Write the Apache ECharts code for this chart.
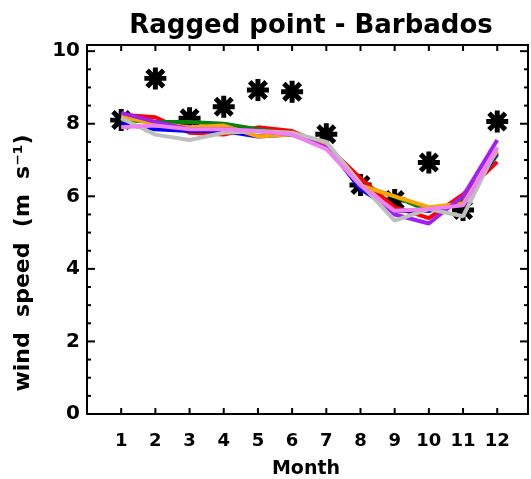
<!DOCTYPE html>
<html>
<head>
<meta charset="utf-8">
<script src="https://cdn.jsdelivr.net/npm/echarts@6/dist/echarts.min.js"></script>
<style>html,body{margin:0;padding:0;background:#fff}#c{width:531px;height:479px}</style>
</head>
<body>
<div id="c"></div>
<script>
const months = [1,2,3,4,5,6,7,8,9,10,11,12];
const xTickLabels = ['1','2','3','4','5','6','7','8','9','10','11','12'];
const yTickLabels = ['0','2','4','6','8','10'];
const yMajorTicks = [0, 2, 4, 6, 8, 10];
const yMinorTicks = [0.5, 1, 1.5, 2.5, 3, 3.5, 4.5, 5, 5.5, 6.5, 7, 7.5, 8.5, 9, 9.5];
const observed = [8.1, 9.25, 8.15, 8.47, 8.93, 8.88, 7.71, 6.31, 5.9, 6.93, 5.62, 8.06];
const red    = [8.25, 8.18, 7.75, 7.7, 7.9, 7.8, 7.4, 6.5, 5.7, 5.4, 6.05, 6.95];
const green  = [8.1, 8.05, 8.05, 8.0, 7.85, 7.7, 7.4, 6.3, 6.0, 5.6, 5.85, 7.15];
const blue   = [8.0, 7.85, 7.8, 7.8, 7.65, 7.7, 7.4, 6.2, 5.6, 5.6, 5.8, 7.2];
const orange = [8.2, 8.0, 7.9, 7.95, 7.65, 7.7, 7.45, 6.3, 6.0, 5.7, 5.8, 7.25];
const purple = [8.3, 8.05, 7.85, 7.85, 7.8, 7.7, 7.35, 6.3, 5.5, 5.25, 6.0, 7.55];
const pink   = [7.9, 7.95, 7.85, 7.85, 7.8, 7.7, 7.3, 6.3, 5.6, 5.65, 5.75, 7.35];
const gray   = [8.15, 7.7, 7.55, 7.75, 7.8, 7.75, 7.5, 6.35, 5.33, 5.65, 5.45, 7.35];

const X_MAX = 12.9, Y_MAX = 10.17;

const modelSeries = [
  ['red', red, '#ff0000'],
  ['green', green, '#0a800a'],
  ['blue', blue, '#0000ff'],
  ['orange', orange, '#ffa500'],
  ['purple', purple, '#a020f0'],
  ['gray', gray, '#bebebe'],
  ['pink', pink, '#ee82ee']
];

const starPath = 'path://M0 7.75L20 7.75L20 12.25L0 12.25Z' +
  'M7.75 0L12.25 0L12.25 20L7.75 20Z' +
  'M4.09 0.91L19.09 15.91L15.91 19.09L0.91 4.09Z' +
  'M19.09 4.09L4.09 19.09L0.91 15.91L15.91 0.91Z';

const chart = echarts.init(document.getElementById('c'), null, {renderer: 'canvas'});
const axisLine = {show: true, onZero: false, lineStyle: {color: '#000', width: 2}};
const tickStyle = {stroke: '#000', lineWidth: 2};

const series = modelSeries.map(([name, vals, color]) => ({
  name, type: 'line', xAxisIndex: 0, yAxisIndex: 0,
  data: months.map((m, i) => [m, vals[i]]),
  showSymbol: false, symbol: 'none',
  lineStyle: {color, width: 4},
  z: 3
}));
series.unshift({
  name: 'obs', type: 'scatter', xAxisIndex: 0, yAxisIndex: 0,
  data: months.map((m, i) => [m, observed[i]]),
  symbol: starPath, symbolSize: 22,
  itemStyle: {color: '#000', opacity: 1}, z: 2
});
// axis ticks (inside, on all four sides), placed through the axes' own scales
series.push({
  name: 'xticks', type: 'custom', xAxisIndex: 0, yAxisIndex: 0, clip: false, silent: true, z: 10,
  data: months.map(m => [m, 0]),
  renderItem: (params, api) => {
    const b = api.coord([api.value(0), 0]);
    const t = api.coord([api.value(0), Y_MAX]);
    return {type: 'group', children: [
      {type: 'line', shape: {x1: b[0], y1: b[1], x2: b[0], y2: b[1] - 6}, style: tickStyle},
      {type: 'line', shape: {x1: t[0], y1: t[1], x2: t[0], y2: t[1] + 6}, style: tickStyle}
    ]};
  }
});
series.push({
  name: 'yticks', type: 'custom', xAxisIndex: 0, yAxisIndex: 0, clip: false, silent: true, z: 10,
  data: yMajorTicks.map(v => [0, v, 8]).concat(yMinorTicks.map(v => [0, v, 4])),
  renderItem: (params, api) => {
    const len = api.value(2);
    const l = api.coord([0, api.value(1)]);
    const r = api.coord([X_MAX, api.value(1)]);
    return {type: 'group', children: [
      {type: 'line', shape: {x1: l[0], y1: l[1], x2: l[0] + len, y2: l[1]}, style: tickStyle},
      {type: 'line', shape: {x1: r[0], y1: r[1], x2: r[0] - len, y2: r[1]}, style: tickStyle}
    ]};
  }
});

const xLabel = v => (Math.abs(v - Math.round(v)) < 1e-6 && v >= 1 && v <= 12) ? xTickLabels[Math.round(v) - 1] : '';
const yLabel = v => (Math.abs(v / 2 - Math.round(v / 2)) < 1e-6 && v <= 10) ? yTickLabels[Math.round(v / 2)] : '';

chart.setOption({
  animation: false,
  title: {
    text: 'Ragged point - Barbados', left: 306, top: 8, textAlign: 'center',
    textStyle: {fontFamily: 'DejaVu Sans', fontSize: 26, fontWeight: 'bold', color: '#000'}
  },
  graphic: [{
    type: 'text', x: 23, y: 263, rotation: Math.PI / 2,
    style: {
      text: 'wind  speed  (m  s\u207B\u00B9)', textAlign: 'center', textVerticalAlign: 'middle',
      fontFamily: 'DejaVu Sans', fontWeight: 'bold', fontSize: 22, fill: '#000'
    }
  }, {
    type: 'text', x: 306, y: 469,
    style: {
      text: 'Month', textAlign: 'center', textVerticalAlign: 'middle',
      fontFamily: 'DejaVu Sans', fontWeight: 'bold', fontSize: 19, fill: '#000'
    }
  }],
  grid: {left: 87, right: 1, top: 45, bottom: 65, containLabel: false},
  xAxis: [{
    type: 'value', position: 'bottom', min: 0, max: X_MAX, interval: 1,
    axisLine, splitLine: {show: false}, axisTick: {show: false},
    axisLabel: {
      margin: 18, color: '#000', fontFamily: 'DejaVu Sans', fontWeight: 'bold', fontSize: 18,
      formatter: xLabel
    }
  }, {
    type: 'value', position: 'top', min: 0, max: X_MAX, interval: 1,
    axisLine, splitLine: {show: false}, axisTick: {show: false},
    axisLabel: {show: false}
  }],
  yAxis: [{
    type: 'value', position: 'left', min: 0, max: Y_MAX, interval: 2,
    axisLine, splitLine: {show: false}, axisTick: {show: false},
    minorTick: {show: false}, minorSplitLine: {show: false},
    axisLabel: {
      margin: 7, color: '#000', fontFamily: 'DejaVu Sans', fontWeight: 'bold', fontSize: 20,
      formatter: yLabel
    }
  }, {
    type: 'value', position: 'right', min: 0, max: Y_MAX, interval: 2,
    axisLine, splitLine: {show: false}, axisTick: {show: false},
    minorTick: {show: false}, minorSplitLine: {show: false},
    axisLabel: {show: false}
  }],
  series
});
</script>
</body>
</html>
